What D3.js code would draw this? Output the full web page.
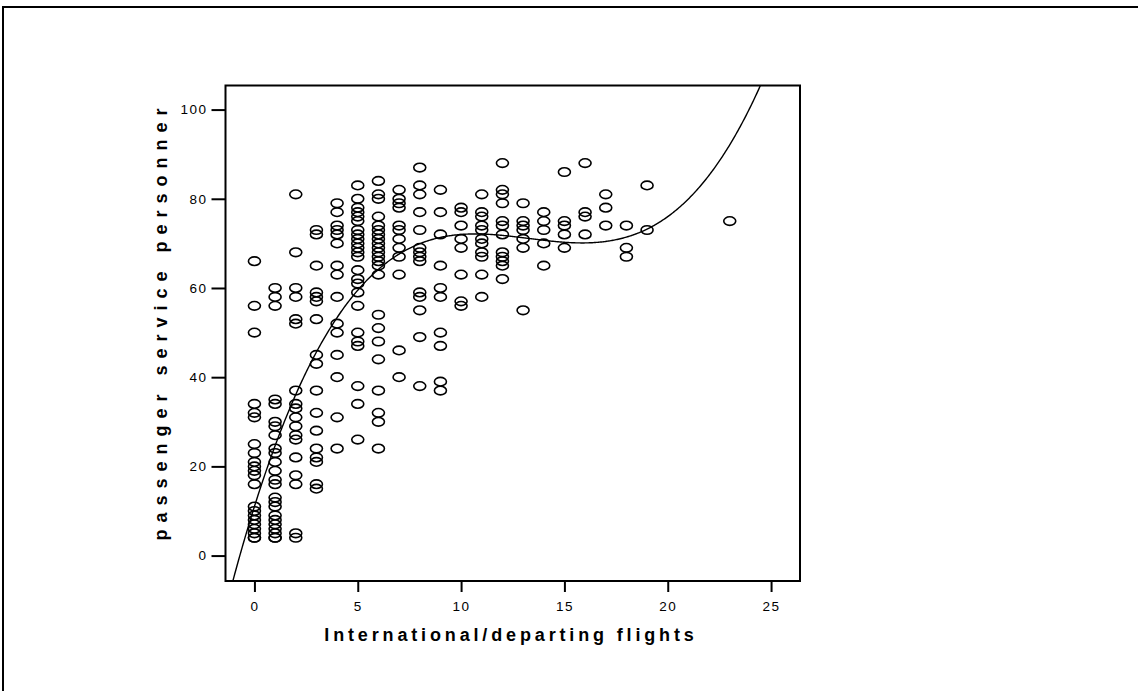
<!DOCTYPE html>
<html>
<head>
<meta charset="utf-8">
<script src="https://cdn.jsdelivr.net/npm/d3@7"></script>
<style>
  body { margin: 0; background: #fff; overflow: hidden; }
  svg { display: block; }
</style>
</head>
<body>
<div id="chart"></div>
<script>
// --- data (one array per x value) ---
const flightCounts = [0, 1, 2, 3, 4, 5, 6, 7, 8, 9, 10, 11, 12, 13, 14, 15, 16, 17, 18, 19, 23];
const personnel = [
  [66, 56, 50, 34, 32, 31, 25, 23, 21, 20, 19, 18, 16, 11, 10, 9, 8, 7, 6, 5, 4, 4],
  [60, 58, 56, 35, 34, 30, 29, 27, 24, 23, 21, 19, 17, 16, 13, 12, 11, 9, 8, 7, 6, 5, 4, 4],
  [81, 68, 60, 58, 53, 52, 37, 34, 33, 31, 29, 27, 26, 22, 18, 16, 5, 4],
  [73, 72, 65, 59, 58, 57, 53, 45, 43, 37, 32, 28, 24, 22, 21, 16, 15],
  [79, 77, 74, 73, 72, 70, 65, 63, 58, 52, 50, 45, 40, 31, 24],
  [83, 80, 78, 77, 76, 75, 73, 72, 71, 70, 69, 68, 67, 64, 62, 61, 59, 56, 50, 48, 47, 38, 34, 26],
  [84, 81, 80, 76, 74, 73, 72, 71, 70, 69, 68, 67, 66, 65, 63, 54, 51, 48, 44, 37, 32, 30, 24],
  [82, 80, 79, 78, 74, 73, 71, 69, 67, 63, 46, 40],
  [87, 83, 81, 77, 73, 69, 68, 67, 66, 59, 58, 55, 49, 38],
  [82, 77, 72, 65, 60, 58, 50, 47, 39, 37],
  [78, 77, 74, 71, 69, 63, 57, 56],
  [81, 77, 76, 74, 73, 71, 70, 68, 67, 63, 58],
  [88, 82, 81, 79, 75, 74, 72, 68, 67, 66, 65, 62],
  [79, 75, 74, 73, 71, 69, 55],
  [77, 75, 73, 70, 65],
  [86, 75, 74, 72, 69],
  [88, 77, 76, 72],
  [81, 78, 74],
  [74, 69, 67],
  [83, 73],
  [75]
];
// cubic fit y = b0 + b1 x + b2 x^2 + b3 x^3 (as drawn)
const fitCoef = [11, 14.75, -1.155, 0.029];
const xTicks = [0, 5, 10, 15, 20, 25];
const yTicks = [0, 20, 40, 60, 80, 100];
const xTitle = 'International/departing flights';
const yTitle = 'passenger service personner';

const W = 1138, H = 691;
const frame = { left: 225.5, right: 800, top: 85.5, bottom: 581 };

const svg = d3.select('#chart').append('svg')
  .attr('width', W).attr('height', H);

// outer border of the output page (runs off the right and bottom)
svg.append('rect')
  .attr('x', 3).attr('y', 7)
  .attr('width', W + 60).attr('height', H + 60)
  .attr('fill', 'none').attr('stroke', '#000').attr('stroke-width', 2);

const x = d3.scaleLinear().domain([-1.4, 26.4]).range([frame.left, frame.right]);
const y = d3.scaleLinear().domain([-5.7, 105.4]).range([frame.bottom, frame.top]);

const points = flightCounts.flatMap((f, i) => personnel[i].map(v => ({ f, v })));

svg.append('clipPath').attr('id', 'plotClip')
  .append('rect')
  .attr('x', frame.left).attr('y', frame.top)
  .attr('width', frame.right - frame.left).attr('height', frame.bottom - frame.top);

// scatter
svg.append('g')
  .selectAll('ellipse')
  .data(points)
  .join('ellipse')
  .attr('cx', d => x(d.f))
  .attr('cy', d => y(d.v))
  .attr('rx', 6)
  .attr('ry', 4.3)
  .attr('fill', 'none')
  .attr('stroke', '#000')
  .attr('stroke-width', 1.6);

// fit line
const fit = t => fitCoef.reduce((s, c, k) => s + c * Math.pow(t, k), 0);
const xs = d3.range(-1.4, 26.4, 0.05);
svg.append('path')
  .datum(xs)
  .attr('clip-path', 'url(#plotClip)')
  .attr('fill', 'none')
  .attr('stroke', '#000')
  .attr('stroke-width', 1.4)
  .attr('d', d3.line().x(t => x(t)).y(t => y(fit(t))));

// frame
svg.append('rect')
  .attr('x', frame.left).attr('y', frame.top)
  .attr('width', frame.right - frame.left).attr('height', frame.bottom - frame.top)
  .attr('fill', 'none').attr('stroke', '#000').attr('stroke-width', 2);

// axes
const fontFam = 'Arial, "Liberation Sans", sans-serif';
const xAxis = svg.append('g')
  .attr('transform', `translate(0,${frame.bottom})`)
  .call(d3.axisBottom(x).tickValues(xTicks).tickSize(11).tickPadding(9));
const yAxis = svg.append('g')
  .attr('transform', `translate(${frame.left},0)`)
  .call(d3.axisLeft(y).tickValues(yTicks).tickSize(14).tickPadding(4));

[xAxis, yAxis].forEach(a => {
  a.select('.domain').remove();
  a.selectAll('.tick line').attr('stroke', '#000').attr('stroke-width', 2);
  a.selectAll('.tick text')
    .attr('fill', '#000')
    .attr('font-family', fontFam)
    .attr('font-size', 13.5)
    .attr('letter-spacing', 1.5);
});

svg.append('text')
  .attr('x', 511).attr('y', 641)
  .attr('text-anchor', 'middle')
  .attr('font-family', fontFam)
  .attr('font-weight', 'bold')
  .attr('font-size', 18)
  .attr('letter-spacing', 3.85)
  .text(xTitle);

svg.append('text')
  .attr('transform', `translate(167,321) rotate(-90)`)
  .attr('text-anchor', 'middle')
  .attr('font-family', fontFam)
  .attr('font-weight', 'bold')
  .attr('font-size', 18)
  .attr('letter-spacing', 7)
  .text(yTitle);
</script>
</body>
</html>
